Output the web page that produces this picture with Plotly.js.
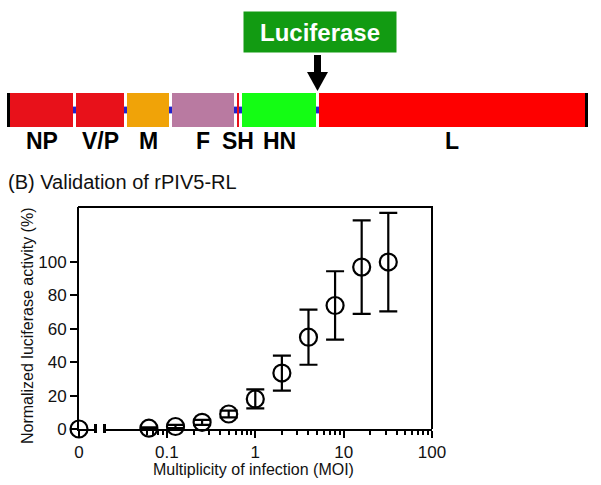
<!DOCTYPE html>
<html><head><meta charset="utf-8">
<script src="https://cdn.plot.ly/plotly-3.0.1.min.js"></script>
<style>html,body{margin:0;padding:0;background:#fff}#chart{width:601px;height:485px}</style>
</head><body><div id="chart"></div>
<script>
// ---------------- data ----------------
const geneNames = ['NP', 'V/P', 'M', 'F', 'SH', 'HN', 'L'];
const geneLengths = [63, 48, 42, 62, 2, 74, 266];
const intergenicLengths = [3, 3, 3, 3, 3, 3];
const leaderLength = 3;
const trailerLength = 3;
const insertAfterGene = 'HN';
const insertLabel = 'Luciferase';

const zeroMoi = [0];
const zeroActivity = [0];
const moi = [0.0625, 0.125, 0.25, 0.5, 1, 2, 4, 8, 16, 32];
const activity = [0.5, 1.5, 4, 9, 18, 33.5, 55, 74, 97, 100];
const activitySd = [0.5, 1, 1.5, 2, 5.7, 10.5, 16.5, 20.5, 28, 29.5];

const yTicks = [0, 20, 40, 60, 80, 100];
const xTicks = [0.1, 1, 10, 100];
const xTickLabels = ['0.1', '1', '10', '100'];
const xZeroTicks = [0];
const xZeroTickLabels = ['0'];
const xMinorTicks = [0.06, 0.07, 0.08, 0.09, 0.2, 0.3, 0.4, 0.5, 0.6, 0.7, 0.8, 0.9,
                     2, 3, 4, 5, 6, 7, 8, 9, 20, 30, 40, 50, 60, 70, 80, 90];

const panelTitle = '(B) Validation of rPIV5-RL';
const xTitle = 'Multiplicity of infection (MOI)';
const yTitle = 'Normalized luciferase activity (%)';

// ---------------- styles ----------------
const geneColors = ['#e8111a', '#e8111a', '#f0a308', '#b97aa1', '#e8111a', '#14fd14', '#fe0000'];
const endColor = '#000000';
const spacerColor = '#2222cc';
const FONT = 'Liberation Sans, Arial, sans-serif';
const W = 601, H = 485;
const px = v => v / W;
const py = v => 1 - v / H;

// ---------------- genome map from data ----------------
const segStart = [], segLen = [], segColor = [];
const spStart = [], spLen = [];
const geneStart = {};
let pos = 0;
segStart.push(pos); segLen.push(leaderLength); segColor.push(endColor); pos += leaderLength;
geneNames.forEach((g, i) => {
  geneStart[g] = pos;
  segStart.push(pos); segLen.push(geneLengths[i]); segColor.push(geneColors[i]);
  pos += geneLengths[i];
  if (i < intergenicLengths.length) {
    spStart.push(pos); spLen.push(intergenicLengths[i]);
    pos += intergenicLengths[i];
  }
});
segStart.push(pos); segLen.push(trailerLength); segColor.push(endColor); pos += trailerLength;
const genomeTotal = pos;

const insIdx = geneNames.indexOf(insertAfterGene);
const junction = geneStart[insertAfterGene] + geneLengths[insIdx] + intergenicLengths[insIdx] / 2;

const traces = [
  {
    type: 'bar', orientation: 'h', xaxis: 'x3', yaxis: 'y3',
    x: segLen, base: segStart, y: segLen.map(() => 0), width: segLen.map(() => 1),
    marker: {color: segColor, line: {width: 0}}, hoverinfo: 'skip'
  },
  {
    type: 'bar', orientation: 'h', xaxis: 'x3', yaxis: 'y3',
    x: spLen, base: spStart, y: spLen.map(() => 0), width: spLen.map(() => 0.2),
    marker: {color: spacerColor, line: {width: 0}}, hoverinfo: 'skip'
  },
  {
    type: 'scatter', mode: 'markers', xaxis: 'x', yaxis: 'y',
    x: zeroMoi, y: zeroActivity, cliponaxis: false,
    marker: {symbol: 'circle-open', size: 17, color: '#000', line: {width: 2.2, color: '#000'}}
  },
  {
    type: 'scatter', mode: 'markers', xaxis: 'x2', yaxis: 'y',
    x: moi, y: activity, cliponaxis: false,
    error_y: {type: 'data', array: activitySd, visible: true, color: '#000', thickness: 2.2, width: 9},
    marker: {symbol: 'circle-open', size: 17, color: '#000', line: {width: 2.2, color: '#000'}}
  }
];

const annotations = geneNames.map((g, i) => ({
  text: '<b>' + g + '</b>', xref: 'x3', yref: 'paper',
  x: geneStart[g] + geneLengths[i] / 2, y: py(141), xanchor: 'center', yanchor: 'middle',
  showarrow: false, font: {family: FONT, size: 23, color: '#000'}
}));
annotations.push({
  text: '<b>' + insertLabel + '</b>', xref: 'paper', yref: 'paper',
  x: px(320), y: py(32), xanchor: 'center', yanchor: 'middle', showarrow: false,
  width: 152, height: 40, borderpad: 0, bgcolor: '#129b12',
  font: {family: FONT, size: 24, color: '#fff'}
});
annotations.push({
  text: panelTitle, xref: 'paper', yref: 'paper', x: px(6), y: py(182),
  xanchor: 'left', yanchor: 'middle', showarrow: false,
  font: {family: FONT, size: 20, color: '#111'}
});
annotations.push({
  text: xTitle, xref: 'paper', yref: 'paper', x: px(253), y: py(469),
  xanchor: 'center', yanchor: 'middle', showarrow: false,
  font: {family: FONT, size: 16, color: '#111'}
});
annotations.push({
  text: yTitle, xref: 'paper', yref: 'paper', x: px(27), y: py(326), textangle: -90,
  xanchor: 'center', yanchor: 'middle', showarrow: false,
  font: {family: FONT, size: 16, color: '#111'}
});

const shapes = [
  {type: 'line', xref: 'x3', yref: 'paper', x0: junction, x1: junction, y0: py(55), y1: py(74),
   line: {color: '#000', width: 7}},
  {type: 'path', xref: 'x3', yref: 'paper',
   path: `M ${junction - 10.5},${py(72)} L ${junction + 10.5},${py(72)} L ${junction},${py(91)} Z`,
   fillcolor: '#000', line: {width: 0}},
  {type: 'line', xref: 'paper', yref: 'paper', x0: px(78), x1: px(433), y0: py(207), y1: py(207),
   line: {color: '#000', width: 2}},
  {type: 'line', xref: 'paper', yref: 'paper', x0: px(432), x1: px(432), y0: py(207), y1: py(429),
   line: {color: '#000', width: 2}},
  {type: 'line', xref: 'paper', yref: 'paper', x0: px(95.5), x1: px(95.5), y0: py(424), y1: py(433),
   line: {color: '#000', width: 3}},
  {type: 'line', xref: 'paper', yref: 'paper', x0: px(104.5), x1: px(104.5), y0: py(424), y1: py(433),
   line: {color: '#000', width: 3}}
];

const axCommon = {
  showline: true, linewidth: 2, linecolor: '#000', ticks: 'outside', ticklen: 7, tickwidth: 2,
  tickcolor: '#000', showgrid: false, zeroline: false, fixedrange: true
};

const layout = {
  width: W, height: H, margin: {l: 0, r: 0, t: 0, b: 0},
  paper_bgcolor: '#fff', plot_bgcolor: 'rgba(0,0,0,0)', showlegend: false,
  barmode: 'overlay', hovermode: false,
  font: {family: FONT, color: '#111'},
  xaxis: Object.assign({}, axCommon, {
    domain: [px(79), px(95)], range: [0, 1], anchor: 'y',
    tickmode: 'array', tickvals: xZeroTicks, ticktext: xZeroTickLabels,
    tickfont: {family: FONT, size: 17, color: '#111'}
  }),
  xaxis2: Object.assign({}, axCommon, {
    type: 'log', domain: [px(104), px(432)], range: [Math.log10(0.0194), 2], anchor: 'y',
    tickmode: 'array', tickvals: xTicks, ticktext: xTickLabels,
    tickfont: {family: FONT, size: 17, color: '#111'},
    minor: {tickmode: 'array', tickvals: xMinorTicks, ticks: 'outside', ticklen: 4, tickwidth: 2,
            tickcolor: '#000', showgrid: false}
  }),
  yaxis: Object.assign({}, axCommon, {
    domain: [py(429), py(207)], range: [0, 133], anchor: 'x',
    tickmode: 'array', tickvals: yTicks,
    tickfont: {family: FONT, size: 17, color: '#111'}
  }),
  xaxis3: {domain: [px(7), px(7 + genomeTotal)], range: [0, genomeTotal], visible: false,
           anchor: 'y3', fixedrange: true},
  yaxis3: {domain: [py(127), py(93)], range: [-0.5, 0.5], visible: false, anchor: 'x3', fixedrange: true},
  annotations: annotations,
  shapes: shapes
};

Plotly.newPlot('chart', traces, layout, {displayModeBar: false, staticPlot: true});
</script>
</body></html>
